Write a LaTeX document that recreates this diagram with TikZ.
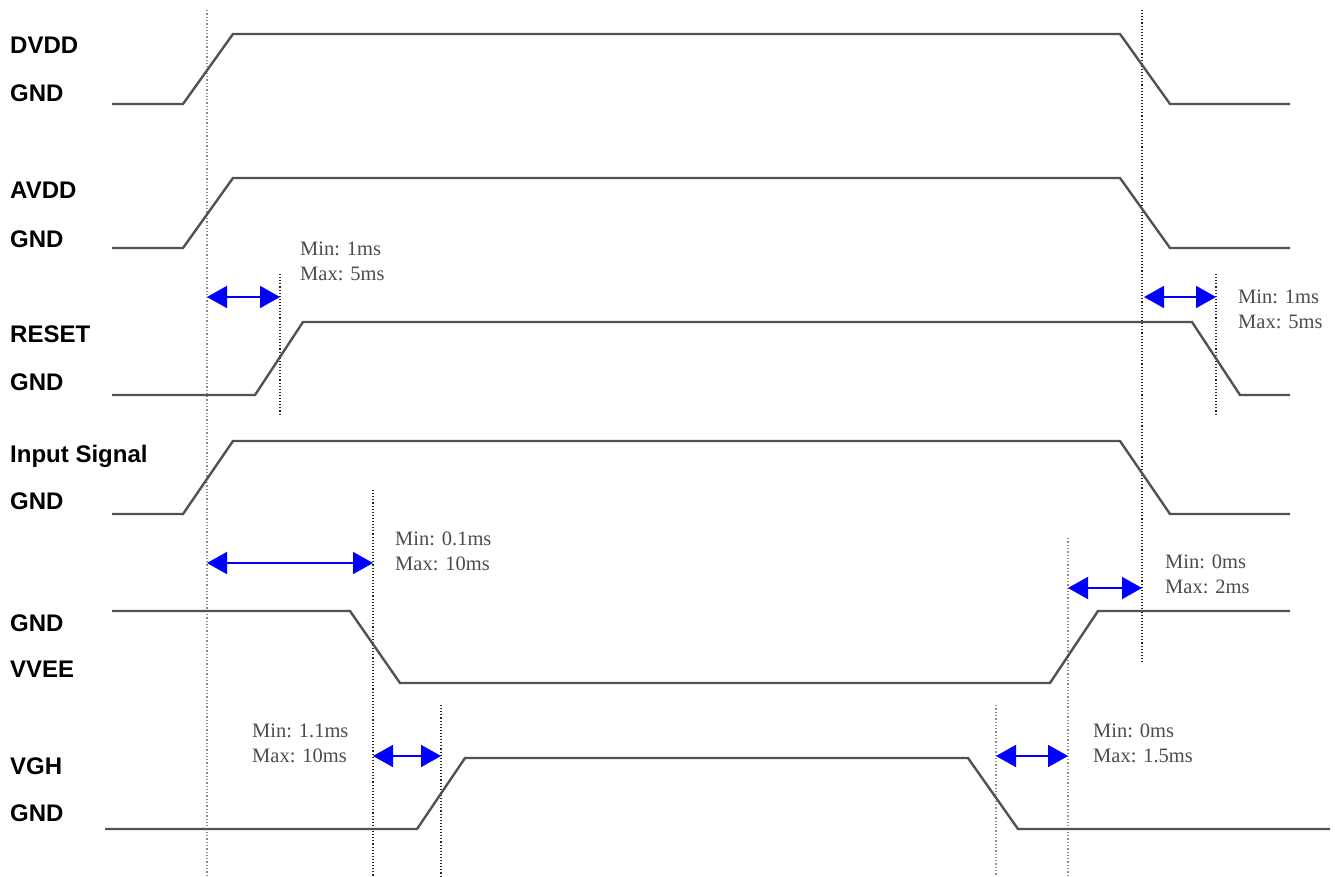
\documentclass[tikz,border=0pt]{standalone}
\usepackage{fontspec}
\setmainfont{Liberation Serif}
\newfontfamily\labfont{Liberation Sans}
\usetikzlibrary{arrows.meta}
\begin{document}
\begin{tikzpicture}[x=1pt,y=-1pt,
  sig/.style={draw=black!68, line width=2.4pt, line join=miter},
  guide/.style={draw=black!85, line width=1.1pt, dotted},
  guidegray/.style={draw=black!45, line width=1.3pt, dotted},
  span/.style={draw=blue, line width=1.8pt, {Triangle[length=20pt,width=22pt]}-{Triangle[length=20pt,width=22pt]}},
  lab/.style={anchor=base west, inner sep=0pt, font=\labfont\bfseries\fontsize{24}{28}\selectfont},
  note/.style={anchor=base west, inner sep=0pt, text=black!70, font=\fontsize{20.5}{25}\selectfont}]
\useasboundingbox (0,0) rectangle (1335,876);
\fill[white] (0,0) rectangle (1335,876);

% vertical guide lines
\coordinate (g1t) at (207,10);   \coordinate (g1b) at (207,876);
\coordinate (g2t) at (280,274);  \coordinate (g2b) at (280,416);
\coordinate (g3t) at (1142,10);  \coordinate (g3b) at (1142,662);
\coordinate (g4t) at (1216,274); \coordinate (g4b) at (1216,416);
\coordinate (g5t) at (373,490);  \coordinate (g5b) at (373,876);
\coordinate (g6t) at (441,705);  \coordinate (g6b) at (441,876);
\coordinate (g7t) at (1068,538); \coordinate (g7b) at (1068,876);
\coordinate (g8t) at (996,705);  \coordinate (g8b) at (996,876);
\draw[guidegray] (g1t) -- (g1b);
\draw[guide] (g2t) -- (g2b);
\draw[guide] (g3t) -- (g3b);
\draw[guide] (g4t) -- (g4b);
\draw[guide] (g5t) -- (g5b);
\draw[guide] (g6t) -- (g6b);
\draw[guidegray] (g7t) -- (g7b);
\draw[guidegray] (g8t) -- (g8b);

% signals
\draw[sig] (112,104) -- (183,104) -- (233,34) -- (1120,34) -- (1170,104) -- (1290,104);
\draw[sig] (112,248) -- (183,248) -- (233,178) -- (1120,178) -- (1170,248) -- (1290,248);
\draw[sig] (112,395) -- (255,395) -- (303,322) -- (1192,322) -- (1240,395) -- (1290,395);
\draw[sig] (112,514) -- (183,514) -- (233,441) -- (1120,441) -- (1170,514) -- (1290,514);
\draw[sig] (112,611) -- (350,611) -- (400,683) -- (1050,683) -- (1098,611) -- (1290,611);
\draw[sig] (105,829) -- (417,829) -- (465,758) -- (968,758) -- (1018,829) -- (1330,829);

% timing arrows
\coordinate (a1l) at (207,297);  \coordinate (a1r) at (280,297);
\coordinate (a2l) at (1144,297); \coordinate (a2r) at (1216,297);
\coordinate (a3l) at (207,563);  \coordinate (a3r) at (373,563);
\coordinate (a4l) at (1068,588); \coordinate (a4r) at (1142,588);
\coordinate (a5l) at (373,756);  \coordinate (a5r) at (441,756);
\coordinate (a6l) at (996,756);  \coordinate (a6r) at (1068,756);
\draw[span] (a1l) -- (a1r);
\draw[span] (a2l) -- (a2r);
\draw[span] (a3l) -- (a3r);
\draw[span] (a4l) -- (a4r);
\draw[span] (a5l) -- (a5r);
\draw[span] (a6l) -- (a6r);

% signal labels
\node[lab] (l1) at (10,53) {DVDD};
\node[lab] (l2) at (10,101) {GND};
\node[lab] (l3) at (10,198) {AVDD};
\node[lab] (l4) at (10,247) {GND};
\node[lab] (l5) at (10,342) {RESET};
\node[lab] (l6) at (10,390) {GND};
\node[lab] (l7) at (10,462) {Input Signal};
\node[lab] (l8) at (10,509) {GND};
\node[lab] (l9) at (10,631) {GND};
\node[lab] (l10) at (10,677) {VVEE};
\node[lab] (l11) at (10,774) {VGH};
\node[lab] (l12) at (10,821) {GND};

% timing notes
\node[note] (n1a) at (300,255) {Min: 1ms};
\node[note] (n1b) at (300,280) {Max: 5ms};
\node[note] (n2a) at (1238,303) {Min: 1ms};
\node[note] (n2b) at (1238,328) {Max: 5ms};
\node[note] (n3a) at (395,545) {Min: 0.1ms};
\node[note] (n3b) at (395,570) {Max: 10ms};
\node[note] (n4a) at (1165,568) {Min: 0ms};
\node[note] (n4b) at (1165,593) {Max: 2ms};
\node[note] (n5a) at (252,737) {Min: 1.1ms};
\node[note] (n5b) at (252,762) {Max: 10ms};
\node[note] (n6a) at (1093,737) {Min: 0ms};
\node[note] (n6b) at (1093,762) {Max: 1.5ms};
\end{tikzpicture}
\end{document}
